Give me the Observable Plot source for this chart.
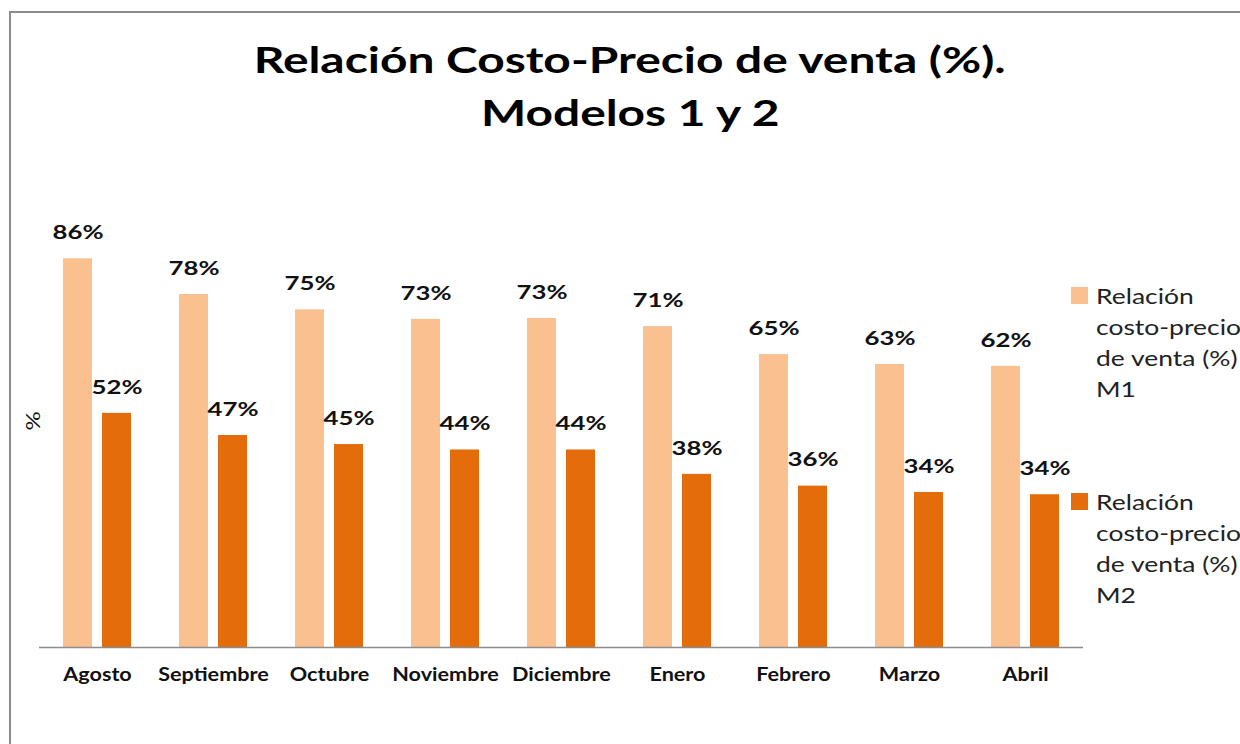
<!DOCTYPE html>
<html>
<head>
<meta charset="utf-8">
<script src="https://cdn.jsdelivr.net/npm/d3@7"></script>
<script src="https://cdn.jsdelivr.net/npm/@observablehq/plot@0.6"></script>
<style>
  html, body { margin: 0; padding: 0; background: #fff; }
  #wrap { position: relative; width: 1240px; height: 744px; overflow: hidden; font-family: Lato, "Open Sans", sans-serif; }
  #frame { position: absolute; left: 9px; top: 11px; width: 1300px; height: 800px; border: 2px solid #8c8c8c; box-sizing: border-box; }
  #title { position: absolute; left: 0; top: 33px; width: 1260px; text-align: center; font-weight: 700; font-size: 36px; line-height: 53px; color: #000; }
  #title span { display: inline-block; transform: scaleX(1.33); transform-origin: center; }
  #ylab { position: absolute; left: 32px; top: 421px; transform: translate(-50%, -50%) rotate(-90deg) scaleX(1.2); font-size: 20px; color: #111; }
  #chart { position: absolute; left: 0; top: 0; }
  .legend { position: absolute; left: 1071px; font-size: 21px; line-height: 31px; color: #222; }
  .legend .sw { position: absolute; left: 0; top: 7px; width: 17px; height: 17px; }
  .legend .tx { position: absolute; left: 25px; top: 0; white-space: nowrap; transform: scaleX(1.26); transform-origin: left top; }
</style>
</head>
<body>
<div id="wrap">
  <div id="frame"></div>
  <div id="title"></div>
  <div id="ylab">%</div>
  <div id="chart"></div>
  <div id="legend"></div>
</div>
<script>
const titleLines = ["Relación Costo-Precio de venta (%).", "Modelos 1 y 2"];
const months = ["Agosto", "Septiembre", "Octubre", "Noviembre", "Diciembre", "Enero", "Febrero", "Marzo", "Abril"];
const seriesNames = ["Relación costo-precio de venta (%) M1", "Relación costo-precio de venta (%) M2"];
const seriesKeys = ["M1", "M2"];
const seriesColors = ["#FAC090", "#E46C0A"];
const valuesM1 = [0.86, 0.781, 0.747, 0.726, 0.728, 0.71, 0.648, 0.626, 0.622];
const valuesM2 = [0.518, 0.469, 0.449, 0.437, 0.437, 0.383, 0.357, 0.343, 0.338];

document.getElementById("title").innerHTML = titleLines.map(t => `<span>${t}</span>`).join("<br>");

const data = [];
months.forEach((m, i) => {
  data.push({month: m, series: "M1", value: valuesM1[i]});
  data.push({month: m, series: "M2", value: valuesM2[i]});
});

const W = 1100, H = 744;
const chart = Plot.plot({
  width: W,
  height: H,
  marginLeft: 37,
  marginRight: W - 1085,
  marginTop: 195,
  marginBottom: H - 647,
  style: {fontFamily: "Lato, 'Open Sans', sans-serif", background: "transparent", overflow: "visible"},
  fx: {domain: months, paddingInner: 0, paddingOuter: 0, label: null},
  x: {domain: seriesKeys, paddingInner: 0.25, paddingOuter: 0.58, axis: null},
  y: {domain: [0, 1], axis: null},
  color: {domain: seriesKeys, range: seriesColors},
  marks: [
    Plot.barY(data, {fx: "month", x: "series", y: "value", fill: "series"}),
    Plot.text(data, {fx: "month", x: "series", y: "value", text: d => d3.format(".0%")(d.value), dy: -26, fontSize: 19.5, fontWeight: "bold", fill: "#111"}),
    Plot.ruleY([0], {stroke: "#8c8c8c", strokeWidth: 1.5}),
    Plot.axisFx({anchor: "bottom", tickSize: 0, tickPadding: 21, fontSize: 18, fontWeight: "bold", color: "#111", label: null})
  ]
});
document.getElementById("chart").appendChild(chart);

function stretch(selector, k) {
  chart.querySelectorAll(selector).forEach(t => {
    const len = t.getComputedTextLength();
    if (len > 0) {
      t.setAttribute("textLength", len * k);
      t.setAttribute("lengthAdjust", "spacingAndGlyphs");
    }
  });
}
stretch('g[aria-label="text"] text', 1.32);
stretch('g[aria-label="fx-axis tick label"] text', 1.2);

const legend = document.getElementById("legend");
const legendTops = [280, 486];
seriesNames.forEach((name, i) => {
  const div = document.createElement("div");
  div.className = "legend";
  div.style.top = legendTops[i] + "px";
  const words = ["Relación", "costo-precio", "de venta (%)", seriesKeys[i]];
  div.innerHTML = `<div class="sw" style="background:${seriesColors[i]}"></div><div class="tx">${words.join("<br>")}</div>`;
  legend.appendChild(div);
});
</script>
</body>
</html>
